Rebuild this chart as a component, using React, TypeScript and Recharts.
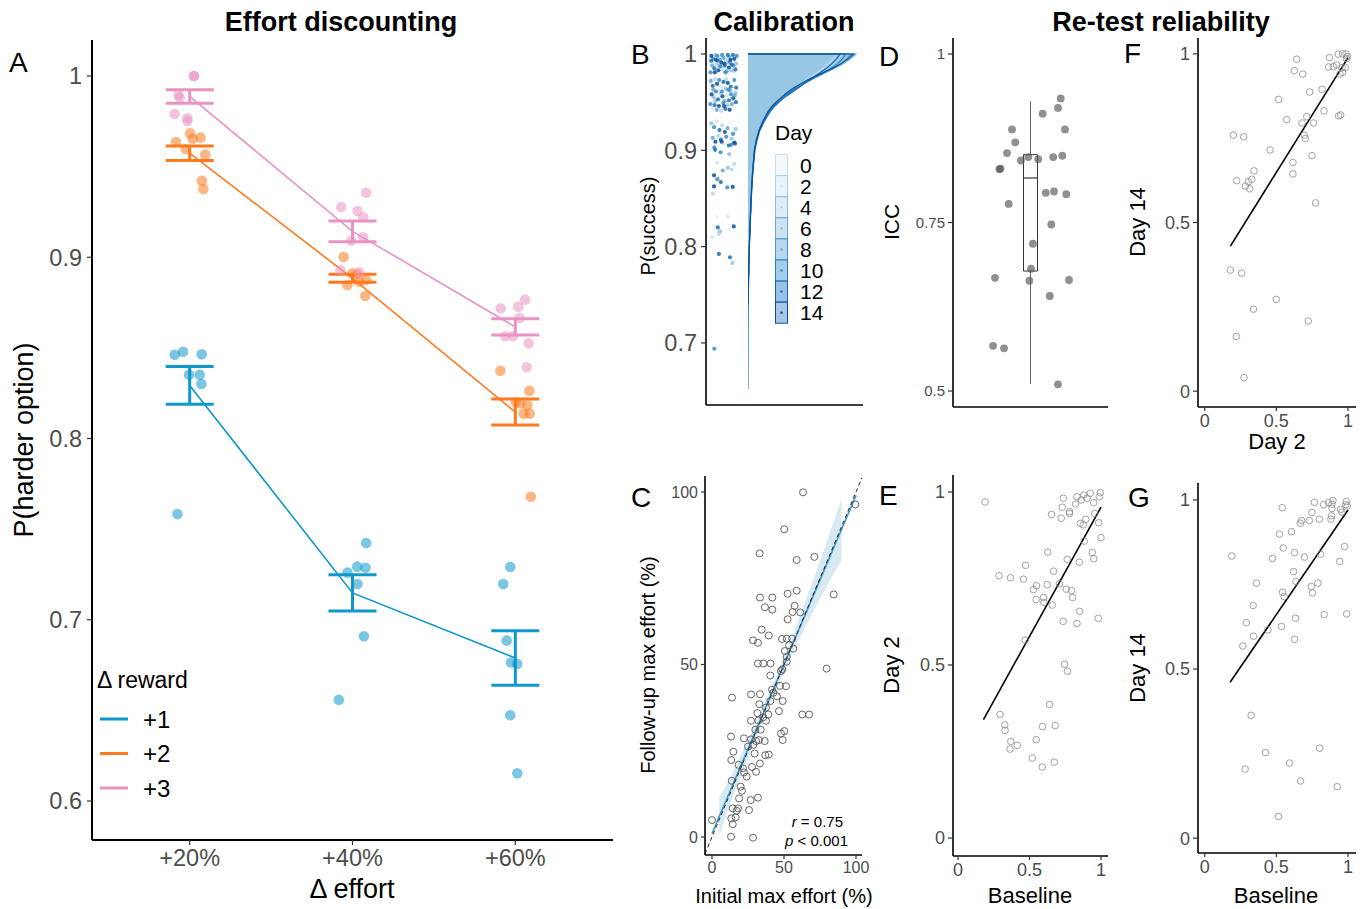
import React from 'react';
import {
  ComposedChart, AreaChart, Area, Scatter, Line, XAxis, YAxis, ErrorBar,
  ReferenceArea, ReferenceLine,
} from 'recharts';

const FONT = '"Liberation Sans", Arial, Helvetica, sans-serif';
const GRAY = '#4d4d4d';
const PAD = 10;

// ---------------- Panel A : effort discounting ----------------
const effortLabels = ['+20%', '+40%', '+60%'];
const rewardLabels = ['+1', '+2', '+3'];
const rewardColors = ['#0f98cb', '#fd7a1f', '#e993c3'];
const meanReward1 = [0.8293, 0.7148, 0.6789];
const seReward1 = [0.0104, 0.0100, 0.0150];
const meanReward2 = [0.9574, 0.8884, 0.8146];
const seReward2 = [0.0040, 0.0022, 0.0072];
const meanReward3 = [0.9887, 0.9143, 0.8616];
const seReward3 = [0.0037, 0.0057, 0.0045];
// [effort level, jitter, P(harder)]
const subjReward1 = [
  [1, -0.092, 0.8462], [1, -0.041, 0.8479], [1, 0.074, 0.8465], [1, -0.004, 0.8352], [1, 0.061, 0.8352], [1, 0.072, 0.8301], [1, -0.075, 0.7583],
  [2, 0.084, 0.7423], [2, 0.029, 0.7293], [2, 0.080, 0.7287], [2, -0.031, 0.7260], [2, 0.031, 0.7197], [2, 0.070, 0.6909], [2, -0.084, 0.6559],
  [3, -0.031, 0.7291], [3, -0.074, 0.7197], [3, -0.053, 0.6885], [3, -0.026, 0.6764], [3, 0.012, 0.6756], [3, -0.031, 0.6473], [3, 0.012, 0.6153],
];
const subjReward2 = [
  [1, 0.002, 0.9684], [1, 0.067, 0.9660], [1, 0.018, 0.9654], [1, -0.084, 0.9636], [1, -0.025, 0.9597], [1, 0.096, 0.9566], [1, 0.075, 0.9422], [1, 0.084, 0.9377],
  [2, -0.055, 0.9001], [2, -0.002, 0.8911], [2, 0.029, 0.8906], [2, 0.084, 0.8874], [2, -0.031, 0.8847], [2, 0.041, 0.8865], [2, 0.078, 0.8786],
  [3, -0.092, 0.8374], [3, 0.086, 0.8264], [3, 0.031, 0.8194], [3, 0.074, 0.8183], [3, 0.051, 0.8137], [3, 0.088, 0.8137], [3, 0.002, 0.8200], [3, 0.095, 0.7679],
];
const subjReward3 = [
  [1, 0.026, 1.0], [1, 0.026, 1.0], [1, -0.069, 0.9895], [1, -0.061, 0.9880], [1, -0.092, 0.9790], [1, -0.014, 0.9767], [1, -0.014, 0.9750],
  [2, 0.084, 0.9356], [2, -0.069, 0.9277], [2, 0.031, 0.9255], [2, 0.067, 0.9220], [2, 0.066, 0.9110], [2, -0.008, 0.9091], [2, -0.074, 0.8930], [2, 0.041, 0.8917],
  [3, 0.060, 0.8766], [3, -0.090, 0.8718], [3, 0.018, 0.8727], [3, 0.026, 0.8665], [3, -0.063, 0.8564], [3, -0.014, 0.8564], [3, 0.082, 0.8525], [3, 0.070, 0.8393],
];

// ---------------- Panel B : calibration ----------------
const dayLevels = [0, 2, 4, 6, 8, 10, 12, 14];
const dayPointColors = ['#edf4fa', '#d4e5f3', '#b7d5ec', '#90c2e2', '#62a8d6', '#3a8cc6', '#1f6fb2', '#0b4f96'];
const dayLineColors = ['#c4def0', '#a6cfea', '#85bfe2', '#62abd9', '#3f97cd', '#2581c0', '#1467ad', '#0c4f96'];
const dayKeyFill = ['#f4f9fd', '#ebf3fa', '#deecf7', '#cde2f2', '#b9d6ed', '#a6cbe8', '#9ac2e4', '#a9c5e6'];
const successGrid = [1, 0.995, 0.99, 0.985, 0.98, 0.975, 0.97, 0.965, 0.96, 0.955, 0.95, 0.945, 0.94, 0.93, 0.92, 0.91, 0.90, 0.88, 0.86, 0.84, 0.82, 0.80, 0.78, 0.76, 0.74, 0.72, 0.70, 0.68, 0.66, 0.652];
const densityByDay = [
  [0.77, 0.74, 0.70, 0.65, 0.59, 0.53, 0.47, 0.41, 0.36, 0.31, 0.27, 0.23, 0.20, 0.145, 0.105, 0.080, 0.062, 0.045, 0.034, 0.026, 0.019, 0.013, 0.008, 0.004, 0.001],
  [0.82, 0.79, 0.75, 0.69, 0.62, 0.55, 0.48, 0.42, 0.36, 0.31, 0.26, 0.22, 0.19, 0.140, 0.100, 0.075, 0.058, 0.042, 0.032, 0.025, 0.018, 0.012, 0.007, 0.003, 0.001],
  [0.88, 0.84, 0.79, 0.72, 0.64, 0.56, 0.48, 0.41, 0.35, 0.30, 0.25, 0.21, 0.18, 0.130, 0.095, 0.072, 0.056, 0.041, 0.031, 0.024, 0.017, 0.011, 0.007, 0.003, 0.001],
  [0.94, 0.89, 0.83, 0.75, 0.66, 0.57, 0.49, 0.42, 0.35, 0.29, 0.24, 0.20, 0.17, 0.125, 0.092, 0.070, 0.054, 0.040, 0.030, 0.023, 0.016, 0.010, 0.006, 0.003, 0.001],
  [0.90, 0.86, 0.81, 0.74, 0.66, 0.58, 0.50, 0.43, 0.37, 0.31, 0.26, 0.215, 0.18, 0.130, 0.095, 0.072, 0.056, 0.042, 0.032, 0.024, 0.017, 0.011, 0.007, 0.003, 0.001],
  [0.85, 0.82, 0.78, 0.72, 0.65, 0.57, 0.49, 0.42, 0.36, 0.30, 0.25, 0.21, 0.175, 0.130, 0.095, 0.072, 0.055, 0.040, 0.030, 0.023, 0.017, 0.012, 0.008, 0.005, 0.003, 0.002, 0.0015, 0.001, 0.0005, 0],
  [0.80, 0.77, 0.73, 0.68, 0.62, 0.56, 0.50, 0.44, 0.38, 0.32, 0.27, 0.225, 0.19, 0.140, 0.100, 0.077, 0.060, 0.044, 0.033, 0.025, 0.018, 0.012, 0.008, 0.004, 0.001],
  [0.92, 0.87, 0.81, 0.73, 0.64, 0.55, 0.47, 0.40, 0.34, 0.29, 0.245, 0.205, 0.175, 0.130, 0.095, 0.072, 0.056, 0.042, 0.031, 0.024, 0.017, 0.011, 0.006, 0.003, 0.001],
];
// [jitter, P(success), day]
const calibrationPoints = [
  [0.05, 0.998, 14], [0.12, 0.995, 10], [0.20, 0.999, 6], [0.28, 0.993, 12], [0.35, 0.997, 2], [0.42, 0.991, 14], [0.50, 0.996, 8], [0.58, 0.994, 4], [0.66, 0.999, 12], [0.74, 0.992, 10], [0.82, 0.997, 0], [0.90, 0.995, 14], [0.97, 0.990, 6],
  [0.08, 0.988, 8], [0.16, 0.985, 12], [0.24, 0.989, 4], [0.31, 0.983, 14], [0.39, 0.987, 10], [0.47, 0.984, 2], [0.55, 0.988, 12], [0.62, 0.982, 8], [0.70, 0.986, 14], [0.78, 0.983, 6], [0.86, 0.988, 10], [0.94, 0.984, 12],
  [0.02, 0.981, 10], [0.13, 0.992, 2], [0.22, 0.994, 14], [0.33, 0.988, 6], [0.45, 0.999, 10], [0.53, 0.990, 14], [0.61, 0.985, 0], [0.71, 0.997, 8], [0.80, 0.989, 12], [0.88, 0.982, 4], [0.99, 0.998, 10], [0.04, 0.993, 12], [0.18, 0.981, 14], [0.37, 0.994, 8], [0.57, 0.981, 10], [0.76, 0.994, 14], [0.93, 0.991, 2], [0.27, 0.998, 10], [0.65, 0.991, 6], [0.85, 0.999, 12],
  [0.03, 0.972, 8], [0.10, 0.967, 12], [0.18, 0.974, 4], [0.26, 0.969, 14], [0.34, 0.973, 10], [0.42, 0.966, 2], [0.50, 0.971, 12], [0.58, 0.964, 6], [0.66, 0.970, 14], [0.74, 0.962, 8], [0.82, 0.968, 0], [0.90, 0.973, 10], [0.97, 0.965, 12],
  [0.06, 0.958, 14], [0.14, 0.955, 6], [0.22, 0.961, 10], [0.30, 0.953, 12], [0.38, 0.959, 4], [0.46, 0.956, 14], [0.54, 0.951, 8], [0.62, 0.957, 2], [0.70, 0.952, 12], [0.78, 0.958, 10], [0.86, 0.954, 14], [0.94, 0.960, 6],
  [0.01, 0.948, 10], [0.09, 0.944, 2], [0.17, 0.947, 12], [0.25, 0.942, 8], [0.33, 0.946, 14], [0.41, 0.941, 4], [0.49, 0.949, 10], [0.57, 0.943, 12], [0.65, 0.947, 6], [0.73, 0.942, 14], [0.81, 0.948, 8], [0.89, 0.944, 0], [0.96, 0.950, 12],
  [0.12, 0.963, 8], [0.29, 0.962, 2], [0.44, 0.961, 10], [0.60, 0.974, 4], [0.77, 0.966, 12], [0.92, 0.957, 8], [0.20, 0.951, 6], [0.52, 0.946, 14], [0.68, 0.963, 10], [0.36, 0.970, 0],
  [0.05, 0.928, 6], [0.15, 0.924, 10], [0.25, 0.930, 2], [0.35, 0.921, 12], [0.45, 0.926, 4], [0.55, 0.919, 14], [0.65, 0.923, 8], [0.75, 0.929, 0], [0.85, 0.917, 10], [0.95, 0.922, 6],
  [0.10, 0.913, 8], [0.20, 0.909, 14], [0.30, 0.915, 4], [0.40, 0.911, 12], [0.50, 0.907, 2], [0.60, 0.914, 10], [0.70, 0.905, 12], [0.80, 0.912, 6], [0.90, 0.908, 14],
  [0.16, 0.903, 10], [0.43, 0.909, 14], [0.80, 0.906, 10], [0.93, 0.907, 12], [0.19, 0.9005, 12], [0.39, 0.898, 10], [0.71, 0.896, 6],
  [0.27, 0.887, 2], [0.66, 0.882, 6], [0.80, 0.880, 4], [0.90, 0.886, 4], [0.47, 0.879, 8], [0.15, 0.874, 14], [0.27, 0.870, 10], [0.40, 0.867, 12], [0.15, 0.8625, 14], [0.64, 0.8615, 10], [0.84, 0.862, 14], [0.11, 0.855, 4],
  [0.25, 0.831, 0], [0.66, 0.831, 2], [0.29, 0.820, 12], [0.37, 0.816, 6], [0.88, 0.821, 14], [0.68, 0.818, 0], [0.09, 0.810, 2], [0.33, 0.813, 4],
  [0.33, 0.7924, 12], [0.74, 0.789, 12], [0.83, 0.783, 6], [0.78, 0.776, 0], [0.16, 0.694, 10],
];

// ---------------- Panel C : max effort ----------------
const initialMaxEffort = [63.2, 99.5, 50.2, 33.1, 71.1, 58.8, 84.5, 33.3, 41.9, 52.5, 58.8, 36.8, 41.9, 57.4, 61.3, 56.0, 52.5, 34.5, 39.4, 28.5, 31.9, 48.6, 51.9, 55.6, 53.5, 56.5, 50.5, 51.9, 31.9, 35.6, 40.7, 51.9, 48.8, 47.9, 40.5, 79.6, 41.7, 42.6, 47.2, 51.4, 45.1, 27.1, 33.3, 13.9, 40.5, 49.1, 32.9, 37.5, 46.5, 31.5, 39.1, 35.6, 62.7, 67.4, 27.1, 32.2, 37.5, 30.1, 33.8, 50.2, 47.9, 13.2, 22.2, 27.1, 32.6, 36.6, 30.6, 49.1, 28.7, 25.0, 29.6, 37.0, 39.4, 14.8, 13.4, 33.3, 18.5, 27.8, 30.6, 21.5, 22.2, 24.1, 13.7, 19.9, 20.8, 18.8, 26.9, 31.9, 14.4, 18.1, 17.1, 25.7, 13.4, 16.4, 14.4, 0.0, 13.2, 28.5];
const followUpMaxEffort = [99.9, 96.4, 89.2, 82.2, 81.2, 80.3, 70.3, 69.4, 69.4, 70.5, 71.4, 66.6, 65.9, 67.0, 65.1, 65.2, 63.1, 60.1, 58.4, 57.0, 56.3, 57.4, 57.5, 57.5, 55.6, 54.6, 53.9, 52.2, 50.3, 50.3, 50.3, 50.8, 48.6, 48.1, 46.8, 48.8, 42.7, 41.8, 43.8, 43.7, 40.8, 41.3, 41.4, 40.4, 39.4, 39.4, 38.5, 37.5, 36.5, 35.9, 35.5, 34.7, 35.5, 35.5, 33.7, 33.8, 33.7, 31.1, 31.1, 30.7, 30.0, 29.1, 28.6, 28.3, 28.1, 27.8, 27.8, 28.1, 26.7, 26.2, 24.2, 23.7, 23.9, 24.7, 22.3, 21.3, 20.9, 20.3, 18.9, 19.9, 18.7, 17.5, 16.3, 14.6, 13.4, 11.2, 10.7, 11.4, 8.3, 8.3, 7.6, 7.8, 5.4, 5.7, 3.7, 4.9, 0.1, -0.2];
const fitX = [0, 5, 10, 20, 30, 40, 50, 60, 70, 80, 90, 100];
const fitY = [1.0, 5.9, 10.8, 20.6, 30.4, 40.2, 50.0, 59.8, 69.6, 79.4, 89.2, 99.0];
const fitLow = [null, 0.2, 6.5, 17.6, 28.2, 38.2, 47.8, 56.8, 65.1, 72.9, 80.2, null];
const fitHigh = [null, 11.6, 15.1, 23.6, 32.6, 42.2, 52.2, 62.8, 74.1, 85.9, 98.2, null];

// ---------------- Panel D : ICC ----------------
// [jitter position, ICC]
const iccPoints = [
  [1.234, 0.934], [1.213, 0.920], [1.094, 0.9115], [0.857, 0.888], [1.267, 0.888], [0.882, 0.869], [0.818, 0.853], [1.246, 0.849], [1.176, 0.847], [0.983, 0.847], [0.926, 0.842], [1.060, 0.844], [0.759, 0.829], [0.768, 0.830],
  [1.118, 0.794], [1.182, 0.796], [1.277, 0.792], [0.831, 0.7775], [1.161, 0.747], [1.019, 0.7185], [1.004, 0.6814], [0.725, 0.668], [0.991, 0.6636], [1.298, 0.6647], [1.149, 0.641], [0.710, 0.567], [0.795, 0.5634], [1.213, 0.5099],
];
const iccBox = { lowWhisker: 0.5104, q1: 0.678, median: 0.816, q3: 0.8506, highWhisker: 0.930 };

// ---------------- Panels E, F, G : re-test ----------------
const baselineVsDay2 = [
  [0.189, 0.971], [0.736, 0.982], [0.729, 0.956], [0.832, 0.986], [0.879, 0.991], [0.925, 0.996], [0.995, 0.998], [0.988, 0.986], [0.862, 0.977], [0.902, 0.982], [0.949, 0.969], [0.822, 0.965],
  [0.780, 0.943], [0.722, 0.924], [0.654, 0.935], [0.780, 0.938], [0.895, 0.921], [0.956, 0.938], [0.855, 0.909], [0.876, 0.905], [0.984, 0.911], [1.0, 0.868], [0.883, 0.858],
  [0.628, 0.826], [0.939, 0.825], [0.949, 0.807], [0.764, 0.805], [0.848, 0.797], [0.472, 0.788], [0.668, 0.771], [0.287, 0.758], [0.367, 0.752], [0.458, 0.748], [0.549, 0.729], [0.528, 0.718],
  [0.624, 0.732], [0.710, 0.735], [0.757, 0.719], [0.794, 0.715], [0.801, 0.695], [0.598, 0.695], [0.547, 0.689], [0.600, 0.681], [0.659, 0.673], [0.850, 0.655], [0.981, 0.635], [0.736, 0.626], [0.832, 0.620],
  [0.470, 0.572], [0.745, 0.502], [0.766, 0.482], [0.640, 0.386], [0.294, 0.357], [0.327, 0.327], [0.329, 0.311], [0.591, 0.322], [0.680, 0.325], [0.369, 0.279], [0.414, 0.268], [0.364, 0.257], [0.547, 0.284], [0.519, 0.231], [0.589, 0.205], [0.673, 0.219],
];
const fitBaselineDay2 = [[0.178, 0.342], [1.0, 0.956]];
const day2VsDay14 = [
  [0.642, 0.984], [0.626, 0.950], [0.684, 0.940], [0.516, 0.865], [0.733, 0.887], [0.819, 0.895], [0.870, 0.989], [0.933, 0.999], [0.963, 1.0], [0.986, 1.0], [0.995, 0.992], [0.990, 0.986],
  [0.865, 0.961], [0.898, 0.962], [0.921, 0.967], [0.958, 0.959], [0.981, 0.959], [0.944, 0.940], [0.963, 0.945], [0.833, 0.831], [0.572, 0.805], [0.712, 0.814], [0.679, 0.795], [0.760, 0.795],
  [0.935, 0.816], [0.949, 0.819], [0.695, 0.759], [0.702, 0.749], [0.200, 0.759], [0.272, 0.754], [0.456, 0.715], [0.749, 0.698], [0.616, 0.678], [0.616, 0.644], [0.344, 0.653], [0.223, 0.624],
  [0.328, 0.628], [0.305, 0.621], [0.284, 0.608], [0.314, 0.600], [0.774, 0.558], [0.179, 0.359], [0.258, 0.350], [0.500, 0.272], [0.340, 0.243], [0.723, 0.208], [0.221, 0.162], [0.274, 0.040],
];
const fitDay2Day14 = [[0.179, 0.430], [1.0, 0.989]];
const baselineVsDay14 = [
  [0.189, 0.834], [0.541, 0.977], [0.765, 0.993], [0.830, 0.986], [0.865, 0.992], [0.895, 0.998], [0.888, 0.987], [0.988, 0.995], [0.984, 0.986], [0.995, 0.982], [0.748, 0.963], [0.888, 0.975],
  [0.958, 0.964], [0.949, 0.972], [0.676, 0.939], [0.667, 0.931], [0.730, 0.939], [0.800, 0.943], [0.881, 0.943], [0.886, 0.953], [0.606, 0.906], [0.522, 0.899], [0.548, 0.858], [0.627, 0.844],
  [0.809, 0.839], [0.977, 0.862], [0.473, 0.827], [0.697, 0.831], [0.942, 0.818], [0.620, 0.788], [0.636, 0.759], [0.361, 0.754], [0.744, 0.744], [0.790, 0.754], [0.752, 0.725], [0.543, 0.727],
  [0.555, 0.714], [0.338, 0.688], [0.634, 0.650], [0.834, 0.661], [0.991, 0.663], [0.291, 0.637], [0.536, 0.626], [0.441, 0.616], [0.340, 0.597], [0.627, 0.588], [0.266, 0.568], [0.324, 0.363],
  [0.802, 0.266], [0.424, 0.253], [0.592, 0.222], [0.282, 0.204], [0.669, 0.169], [0.925, 0.152], [0.515, 0.064],
];
const fitBaselineDay14 = [[0.177, 0.461], [1.0, 0.970]];

// ---------------- helpers ----------------
const tick = (fs: number) => ({ fill: GRAY, fontSize: fs, fontFamily: FONT });
const axisLine = { stroke: '#000', strokeWidth: 1.6 };
const tickLine = { stroke: '#333', strokeWidth: 1.2 };

function frame(x0: number, y0: number, x1: number, y1: number, yw: number, xh: number) {
  return {
    style: { position: 'absolute' as const, left: x0 - yw, top: y0 - PAD },
    width: x1 - x0 + yw + PAD,
    height: y1 - y0 + xh + PAD,
    margin: { top: PAD, right: PAD, bottom: 0, left: 0 },
  };
}

const dot = (r: number, fill: string, op: number) => (p: any) => (
  <circle cx={p.cx} cy={p.cy} r={r} fill={fill} fillOpacity={op} stroke="none" />
);
const ring = (r: number, stroke: string, sw: number) => (p: any) => (
  <circle cx={p.cx} cy={p.cy} r={r} fill="none" stroke={stroke} strokeWidth={sw} />
);

function PanelA() {
  const f = frame(92, 40, 613, 840, 92, 50);
  const means = [meanReward1, meanReward2, meanReward3];
  const ses = [seReward1, seReward2, seReward3];
  const subj = [subjReward1, subjReward2, subjReward3];
  return (
    <div style={f.style}>
      <ComposedChart width={f.width} height={f.height} margin={f.margin}>
        <XAxis type="number" dataKey="x" domain={[0.4, 3.6]} allowDataOverflow ticks={[1, 2, 3]}
          tickFormatter={(v: number) => effortLabels[v - 1]} tick={tick(23.5)} tickSize={5} tickMargin={4}
          axisLine={{ stroke: '#000', strokeWidth: 2 }} tickLine={tickLine} height={50} interval={0} />
        <YAxis type="number" dataKey="y" domain={[0.57848, 1.01986]} allowDataOverflow ticks={[0.6, 0.7, 0.8, 0.9, 1]}
          tick={tick(23.5)} tickSize={5} tickMargin={5} axisLine={{ stroke: '#000', strokeWidth: 2 }} tickLine={tickLine} width={92} interval={0} />
        {subj.map((arr, k) => (
          <Scatter key={'s' + k} data={arr.map(([c, j, v]) => ({ x: c + j, y: v }))}
            shape={dot(5.3, rewardColors[k], 0.55)} isAnimationActive={false} />
        ))}
        {means.map((m, k) => (
          <Line key={'l' + k} data={m.map((v, i) => ({ x: i + 1, y: v, err: ses[k][i] }))} dataKey="y"
            stroke={rewardColors[k]} strokeWidth={1.6} dot={false} isAnimationActive={false} type="linear">
            <ErrorBar dataKey="err" direction="y" width={24} stroke={rewardColors[k]} strokeWidth={3} />
          </Line>
        ))}
      </ComposedChart>
    </div>
  );
}

function PanelB() {
  const f = frame(706, 38, 863, 405, 60, 5);
  const rows: any[] = [];
  const top: any = { p: 1, env: 0 };
  dayLevels.forEach((d) => { top['d' + d] = 0; });
  rows.push(top);
  successGrid.forEach((p, i) => {
    const row: any = { p };
    let env = 0;
    dayLevels.forEach((d, k) => {
      const v = densityByDay[k][i];
      if (v !== undefined) { row['d' + d] = v; env = Math.max(env, v); }
    });
    row.env = env;
    rows.push(row);
  });
  return (
    <>
      <div style={f.style}>
        <ComposedChart width={f.width} height={f.height} margin={f.margin}>
          <XAxis type="number" dataKey="x" domain={[-0.148, 5.667]} allowDataOverflow tick={false} tickLine={false}
            axisLine={axisLine} height={5} />
          <YAxis type="number" dataKey="y" domain={[0.6356, 1.0166]} allowDataOverflow ticks={[0.7, 0.8, 0.9, 1]}
            tick={tick(23.5)} tickSize={5} tickMargin={4} axisLine={axisLine} tickLine={tickLine} width={60} interval={0} />
          {dayLevels.map((d, k) => (
            <Scatter key={d} data={calibrationPoints.filter((q) => q[2] === d).map(([j, p]) => ({ x: j, y: p }))}
              shape={dot(2.1, dayPointColors[k], 0.85)} isAnimationActive={false} />
          ))}
        </ComposedChart>
      </div>
      <div style={{ position: 'absolute', left: 748, top: 38 }}>
        <AreaChart layout="vertical" width={115} height={367} data={rows} margin={{ top: 0, right: 0, bottom: 0, left: 0 }}>
          <XAxis type="number" domain={[0, 1]} allowDataOverflow hide />
          <YAxis type="number" dataKey="p" domain={[0.6356, 1.0166]} allowDataOverflow hide reversed />
          <Area dataKey="env" type="linear" fill="#97c7e2" fillOpacity={1} stroke="none" isAnimationActive={false} />
          {dayLevels.map((d, k) => (
            <Area key={d} dataKey={'d' + d} type="linear" fill="none" stroke={dayLineColors[k]} strokeWidth={1.1}
              isAnimationActive={false} />
          ))}
        </AreaChart>
      </div>
    </>
  );
}

function PanelC() {
  const f = frame(705, 476, 862, 855, 60, 30);
  const rows = fitX.map((x, i) => ({
    x, fit: fitY[i], band: fitLow[i] === null ? null : [fitLow[i], fitHigh[i]],
  }));
  const pts = initialMaxEffort.map((x, i) => ({ x, y: followUpMaxEffort[i] }));
  return (
    <div style={f.style}>
      <ComposedChart width={f.width} height={f.height} margin={f.margin} data={rows}>
        <XAxis type="number" dataKey="x" domain={[-4.86, 104.17]} allowDataOverflow ticks={[0, 50, 100]}
          tick={tick(16)} tickSize={4} tickMargin={3} axisLine={axisLine} tickLine={tickLine} height={30} interval={0} />
        <YAxis type="number" dataKey="y" domain={[-5.22, 104.64]} allowDataOverflow ticks={[0, 50, 100]}
          tick={tick(16)} tickSize={4} tickMargin={3} axisLine={axisLine} tickLine={tickLine} width={60} interval={0} />
        <Area dataKey="band" type="monotone" fill="#a9cfe2" fillOpacity={0.45} stroke="none" isAnimationActive={false} />
        <Line dataKey="fit" type="linear" stroke="#3a9ad0" strokeWidth={1.6} dot={false} isAnimationActive={false} />
        <ReferenceLine segment={[{ x: -4.86, y: -4.86 }, { x: 104.17, y: 104.17 }]} stroke="#222" strokeWidth={1}
          strokeDasharray="4 3" ifOverflow="hidden" />
        <Scatter data={pts} shape={ring(3.5, '#555', 0.9)} isAnimationActive={false} />
      </ComposedChart>
    </div>
  );
}

function PanelD() {
  const f = frame(953, 38, 1108, 407, 50, 5);
  const pts = iccPoints.map(([x, y]) => ({ x, y }));
  const b = iccBox;
  return (
    <div style={f.style}>
      <ComposedChart width={f.width} height={f.height} margin={f.margin}>
        <XAxis type="number" dataKey="x" domain={[0.4, 1.6]} allowDataOverflow tick={false} tickLine={false}
          axisLine={axisLine} height={5} />
        <YAxis type="number" dataKey="y" domain={[0.4763, 1.0237]} allowDataOverflow ticks={[0.5, 0.75, 1]}
          tick={tick(15)} tickSize={5} tickMargin={3} axisLine={axisLine} tickLine={tickLine} width={50} interval={0} />
        <ReferenceLine segment={[{ x: 1, y: b.q3 }, { x: 1, y: b.highWhisker }]} stroke="#666" strokeWidth={1} />
        <ReferenceLine segment={[{ x: 1, y: b.lowWhisker }, { x: 1, y: b.q1 }]} stroke="#666" strokeWidth={1} />
        <ReferenceArea x1={0.946} x2={1.054} y1={b.q1} y2={b.q3} fill="#fff" fillOpacity={0} stroke="#333"
          strokeWidth={1} />
        <ReferenceLine segment={[{ x: 0.946, y: b.median }, { x: 1.054, y: b.median }]} stroke="#333" strokeWidth={1.2} />
        <Scatter data={pts} shape={dot(3.9, '#555', 0.65)} isAnimationActive={false} />
      </ComposedChart>
    </div>
  );
}

function RetestPanel({ x0, y0, x1, y1, xDomain, yDomain, points, fit }: any) {
  const f = frame(x0, y0, x1, y1, 50, 30);
  return (
    <div style={f.style}>
      <ComposedChart width={f.width} height={f.height} margin={f.margin}>
        <XAxis type="number" dataKey="x" domain={xDomain} allowDataOverflow ticks={[0, 0.5, 1]}
          tick={tick(18)} tickSize={4} tickMargin={3} axisLine={axisLine} tickLine={tickLine} height={30} interval={0} />
        <YAxis type="number" dataKey="y" domain={yDomain} allowDataOverflow ticks={[0, 0.5, 1]}
          tick={tick(18)} tickSize={5} tickMargin={3} axisLine={axisLine} tickLine={tickLine} width={50} interval={0} />
        <Scatter data={points.map(([x, y]: number[]) => ({ x, y }))} shape={ring(3.3, '#8a8a8a', 0.8)}
          isAnimationActive={false} />
        <Line data={fit.map(([x, y]: number[]) => ({ x, y }))} dataKey="y" type="linear" stroke="#000"
          strokeWidth={1.6} dot={false} isAnimationActive={false} />
      </ComposedChart>
    </div>
  );
}

function Overlay() {
  const t = (x: number, y: number, s: string, fs: number, extra: any = {}) => (
    <text x={x} y={y} fontSize={fs} fontFamily={FONT} fill="#000" {...extra}>{s}</text>
  );
  const vt = (x: number, y: number, s: string, fs: number) => (
    <text x={0} y={0} fontSize={fs} fontFamily={FONT} fill="#000" textAnchor="middle"
      transform={`translate(${x},${y}) rotate(-90)`}>{s}</text>
  );
  return (
    <svg width={1366} height={909} style={{ position: 'absolute', left: 0, top: 0, pointerEvents: 'none' }}>
      {t(341, 31, 'Effort discounting', 27, { fontWeight: 'bold', textAnchor: 'middle' })}
      {t(784, 31, 'Calibration', 27, { fontWeight: 'bold', textAnchor: 'middle' })}
      {t(1161, 31, 'Re-test reliability', 27, { fontWeight: 'bold', textAnchor: 'middle' })}
      {t(9, 72, 'A', 28)}
      {t(631, 64, 'B', 28)}
      {t(631, 507, 'C', 28)}
      {t(879, 66, 'D', 28)}
      {t(879, 505, 'E', 28)}
      {t(1124, 63, 'F', 28)}
      {t(1128, 507, 'G', 28)}
      {vt(33, 440, 'P(harder option)', 27)}
      {t(352, 898, 'Δ effort', 27, { textAnchor: 'middle' })}
      {t(97, 688, 'Δ reward', 23)}
      {rewardLabels.map((lab, k) => (
        <g key={lab}>
          <line x1={100} x2={128} y1={719 + 34.5 * k} y2={719 + 34.5 * k} stroke={rewardColors[k]} strokeWidth={3} />
          {t(143, 727.5 + 34.5 * k, lab, 24)}
        </g>
      ))}
      {vt(655, 226, 'P(success)', 20)}
      {t(775, 140, 'Day', 21)}
      {dayLevels.map((d, k) => (
        <g key={d}>
          <rect x={775.5} y={154.5 + 21.1 * k} width={12} height={21} fill={dayKeyFill[k]} stroke={dayLineColors[k]} strokeWidth={1} />
          <circle cx={781.5} cy={165 + 21.1 * k} r={1.2} fill={dayPointColors[k]} />
          {t(800, 172.5 + 21.1 * k, String(d), 21)}
        </g>
      ))}
      {vt(655, 665, 'Follow-up max effort (%)', 20)}
      {t(784, 903, 'Initial max effort (%)', 20, { textAnchor: 'middle' })}
      <text x={843} y={827} fontSize={15} fontFamily={FONT} textAnchor="end"><tspan fontStyle="italic">r</tspan> = 0.75</text>
      <text x={848} y={846} fontSize={15} fontFamily={FONT} textAnchor="end"><tspan fontStyle="italic">p</tspan> &lt; 0.001</text>
      {vt(899, 222, 'ICC', 21)}
      {vt(899, 665, 'Day 2', 22)}
      {t(1030, 903, 'Baseline', 22, { textAnchor: 'middle' })}
      {vt(1145, 222, 'Day 14', 22)}
      {t(1277, 449, 'Day 2', 22, { textAnchor: 'middle' })}
      {vt(1145, 668, 'Day 14', 22)}
      {t(1276, 903, 'Baseline', 22, { textAnchor: 'middle' })}
    </svg>
  );
}

export default function App() {
  return (
    <div style={{ position: 'absolute', left: 0, top: 0, width: 1366, height: 909, background: '#fff', fontFamily: FONT }}>
      <PanelA />
      <PanelB />
      <PanelC />
      <PanelD />
      <RetestPanel x0={953} y0={475} x1={1108} y1={856} xDomain={[-0.035, 1.049]} yDomain={[-0.052, 1.049]}
        points={baselineVsDay2} fit={fitBaselineDay2} />
      <RetestPanel x0={1198} y0={38} x1={1356} y1={407} xDomain={[-0.047, 1.056]} yDomain={[-0.047, 1.047]}
        points={day2VsDay14} fit={fitDay2Day14} />
      <RetestPanel x0={1198} y0={483} x1={1356} y1={853} xDomain={[-0.047, 1.056]} yDomain={[-0.044, 1.05]}
        points={baselineVsDay14} fit={fitBaselineDay14} />
      <Overlay />
    </div>
  );
}
